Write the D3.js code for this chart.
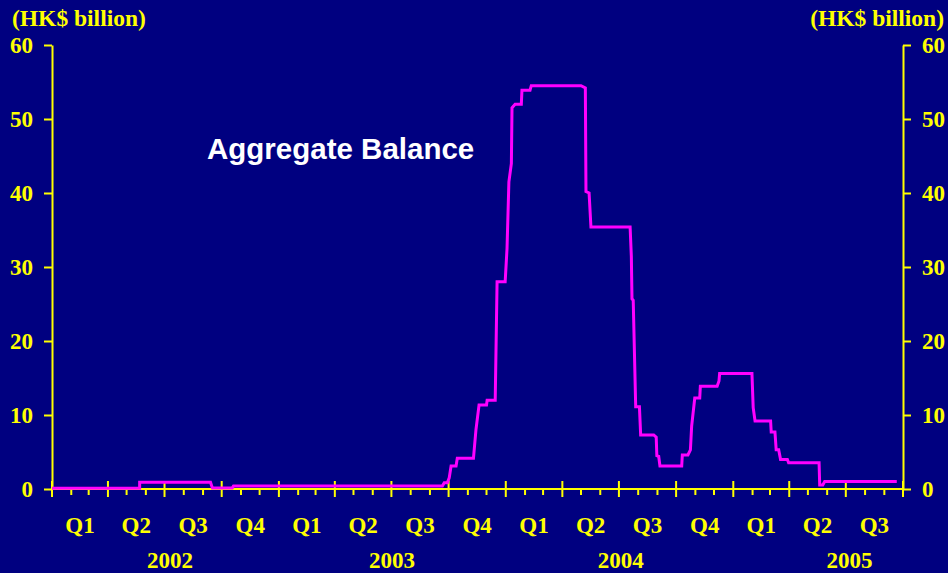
<!DOCTYPE html>
<html>
<head>
<meta charset="utf-8">
<script src="https://cdn.jsdelivr.net/npm/d3@7"></script>
<style>
  html, body { margin: 0; padding: 0; background: #000080; }
  svg { display: block; }
</style>
</head>
<body>
<script>
// ---------------- data ----------------
const dates = [
  "2002-01-01","2002-05-22","2002-05-22","2002-09-13","2002-09-16","2002-10-18","2002-10-20",
  "2003-09-21","2003-09-24","2003-09-29","2003-10-02","2003-10-05","2003-10-13","2003-10-15",
  "2003-11-10","2003-11-14","2003-11-19","2003-12-01","2003-12-02","2003-12-15","2003-12-18",
  "2003-12-31","2004-01-03","2004-01-06","2004-01-10","2004-01-11","2004-01-16","2004-01-26",
  "2004-01-27","2004-02-09","2004-02-11","2004-05-01","2004-05-08","2004-05-09","2004-05-14",
  "2004-05-17","2004-07-19","2004-07-21","2004-07-22","2004-07-24","2004-07-28","2004-08-03",
  "2004-08-05","2004-08-26","2004-08-30","2004-08-31","2004-09-03","2004-09-05","2004-10-10",
  "2004-10-11","2004-10-20","2004-10-24","2004-10-26","2004-10-31","2004-11-08","2004-11-09",
  "2004-12-06","2004-12-09","2004-12-10","2005-01-31","2005-02-02","2005-02-05","2005-03-02",
  "2005-03-03","2005-03-09","2005-03-11","2005-03-15","2005-03-18","2005-03-29","2005-03-31",
  "2005-05-19","2005-05-20","2005-05-25","2005-05-28","2005-09-21"
];
const balance = [
  0.1, 0.1, 0.9, 0.9, 0.15, 0.15, 0.4,
  0.4, 0.85, 0.85, 1.5, 3.1, 3.1, 4.15,
  4.15, 8.0, 11.35, 11.35, 12.0, 12.0, 28.0,
  28.0, 32.5, 41.5, 44.0, 51.5, 52.0, 52.0,
  53.9, 53.9, 54.5, 54.5, 54.2, 40.2, 40.0,
  35.4, 35.4, 31.4, 25.7, 25.5, 11.1, 11.1,
  7.3, 7.3, 7.0, 4.5, 4.4, 3.1, 3.1,
  4.6, 4.6, 5.3, 8.5, 12.3, 12.3, 13.9,
  13.9, 14.6, 15.6, 15.6, 11.0, 9.2, 9.2,
  7.7, 7.7, 5.3, 5.3, 4.0, 4.0, 3.55,
  3.55, 0.55, 0.55, 1.0, 1.0
];
const yTicks = [0, 10, 20, 30, 40, 50, 60];
const quarterLabels = ["Q1","Q2","Q3","Q4","Q1","Q2","Q3","Q4","Q1","Q2","Q3","Q4","Q1","Q2","Q3"];
const yearLabels = ["2002","2003","2004","2005"];
const yearLabelDates = ["2002-07-10","2003-07-02","2004-07-04","2005-07-07"];
const unitLabel = "(HK$ billion)";
const seriesTitle = "Aggregate Balance";
const startDate = "2002-01-01";
const endDate = "2005-10-01";

// ---------------- chart ----------------
const W = 948, H = 573;
const parse = d3.utcParse("%Y-%m-%d");
const yellow = "#FFFF00";
const serif = "'Liberation Serif','Times New Roman',serif";

const svg = d3.select("body").append("svg")
  .attr("width", W).attr("height", H)
  .style("background", "#000080");

const x = d3.scaleUtc().domain([parse(startDate), parse(endDate)]).range([52, 903]);
const y = d3.scaleLinear().domain([0, 60]).range([489, 45]);

// y axes
const yAxisL = d3.axisLeft(y).tickValues(yTicks).tickSize(8).tickPadding(11).tickSizeOuter(0);
const yAxisR = d3.axisRight(y).tickValues(yTicks).tickSize(8).tickPadding(11).tickSizeOuter(0);

function styleAxis(g) {
  g.selectAll("path, line").attr("stroke", yellow).attr("stroke-width", 2);
  g.selectAll("text").attr("fill", yellow).attr("font-family", serif)
    .attr("font-weight", "bold").attr("font-size", 23);
}

svg.append("g").attr("transform", `translate(${x.range()[0]},0)`).call(yAxisL).call(styleAxis);
svg.append("g").attr("transform", `translate(${x.range()[1]},0)`).call(yAxisR).call(styleAxis);

// x axis line
svg.append("line")
  .attr("x1", x.range()[0]).attr("x2", x.range()[1])
  .attr("y1", y(0)).attr("y2", y(0))
  .attr("stroke", yellow).attr("stroke-width", 2);

const months = d3.utcMonth.range(parse(startDate), d3.utcDay.offset(parse(endDate), 1));
const quarters = months.filter(d => d.getUTCMonth() % 3 === 0);

svg.append("g").selectAll("line.minor")
  .data(months.filter(d => d.getUTCMonth() % 3 !== 0))
  .join("line")
  .attr("x1", d => x(d)).attr("x2", d => x(d))
  .attr("y1", y(0)).attr("y2", y(0) + 6)
  .attr("stroke", yellow).attr("stroke-width", 2);

svg.append("g").selectAll("line.major")
  .data(quarters)
  .join("line")
  .attr("x1", d => x(d)).attr("x2", d => x(d))
  .attr("y1", y(0) - 8).attr("y2", y(0) + 8)
  .attr("stroke", yellow).attr("stroke-width", 2);

// quarter labels
const qStarts = quarters.slice(0, quarterLabels.length);
svg.append("g").selectAll("text")
  .data(quarterLabels)
  .join("text")
  .attr("x", (d, i) => (x(qStarts[i]) + x(d3.utcMonth.offset(qStarts[i], 3))) / 2)
  .attr("y", 533)
  .attr("text-anchor", "middle")
  .attr("fill", yellow).attr("font-family", serif)
  .attr("font-weight", "bold").attr("font-size", 23)
  .text(d => d);

// year labels
svg.append("g").selectAll("text")
  .data(yearLabels)
  .join("text")
  .attr("x", (d, i) => x(parse(yearLabelDates[i])))
  .attr("y", 568)
  .attr("text-anchor", "middle")
  .attr("fill", yellow).attr("font-family", serif)
  .attr("font-weight", "bold").attr("font-size", 23)
  .text(d => d);

// unit labels
svg.append("text").attr("x", 12).attr("y", 26)
  .attr("fill", yellow).attr("font-family", serif)
  .attr("font-weight", "bold").attr("font-size", 23.5)
  .text(unitLabel);
svg.append("text").attr("x", 944).attr("y", 26)
  .attr("text-anchor", "end")
  .attr("fill", yellow).attr("font-family", serif)
  .attr("font-weight", "bold").attr("font-size", 23.5)
  .text(unitLabel);

// series title
svg.append("text").attr("x", 207).attr("y", 159)
  .attr("fill", "#FFFFFF").attr("font-family", "'Liberation Sans', Arial, sans-serif")
  .attr("font-weight", "bold").attr("font-size", 29.5)
  .text(seriesTitle);

// line
const data = dates.map((d, i) => ({ date: parse(d), value: balance[i] }));
const line = d3.line().x(d => x(d.date)).y(d => y(d.value));
svg.append("path")
  .datum(data)
  .attr("d", line)
  .attr("fill", "none")
  .attr("stroke", "#FF00FF")
  .attr("stroke-width", 3)
  .attr("stroke-linejoin", "miter");
</script>
</body>
</html>
